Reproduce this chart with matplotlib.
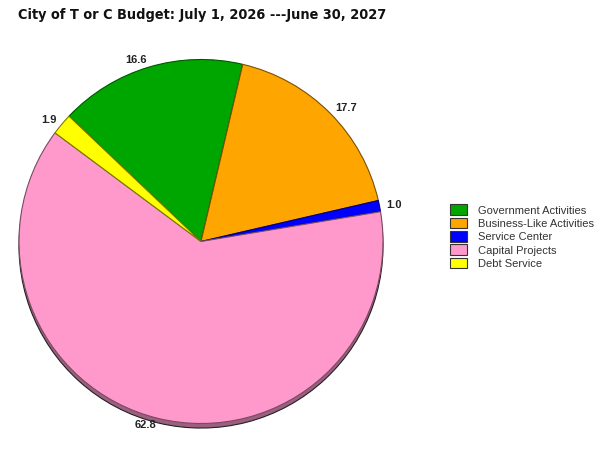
import matplotlib.pyplot as plt
from matplotlib import font_manager

categories = ["Government Activities", "Business-Like Activities", "Service Center",
              "Capital Projects", "Debt Service"]
values = [16.6, 17.7, 1.0, 62.8, 1.9]
colors = ["#00a600", "#ffa500", "#0000ff", "#ff99cc", "#ffff00"]
shadow_colors = ["#006400", "#a06800", "#00009a", "#9c5f7f", "#a0a000"]
edge_colors = ["#005500", "#7a5000", "#000080", "#7a4a62", "#7a7a00"]
title = "City of T or C Budget: July 1, 2026 ---June 30, 2027"

# look for a condensed bold face for the title, else Roboto bold
title_font = font_manager.FontProperties(family="Roboto", weight="bold")
for f in font_manager.fontManager.ttflist:
    if "ondensed" in f.name or "Narrow" in f.name or f.stretch in ("condensed", "extra-condensed", "semi-condensed"):
        w = f.weight if isinstance(f.weight, int) else 700 if "bold" in str(f.weight) else 400
        if w >= 600:
            title_font = font_manager.FontProperties(fname=f.fname)
            break

fig = plt.figure(figsize=(6, 4.53), dpi=100)
W, H = 600, 453
cx, cy, r = 201, 241.5, 182
ax = fig.add_axes([(cx - r) / W, (H - cy - r) / H, 2 * r / W, 2 * r / H])

# shadow pie, offset downward
ax.pie(values, colors=shadow_colors, startangle=136.5, counterclock=False,
       center=(0, -0.025), wedgeprops=dict(edgecolor="#222222", linewidth=0.8))

wedges, texts = ax.pie(values, colors=colors, startangle=136.5, counterclock=False,
                       labels=[f"{v:.1f}" for v in values], labeldistance=1.04,
                       textprops=dict(fontsize=8, fontweight="bold", color="#222222",
                                      family="Liberation Sans"),
                       wedgeprops=dict(linewidth=0.8))
for w, ec in zip(wedges, edge_colors):
    w.set_edgecolor(ec)
for t in texts:
    t.set_va("center")

ax.set_xlim(-1, 1)
ax.set_ylim(-1, 1)
ax.set_aspect("equal")
ax.axis("off")

title_font.set_size(14)
tt = fig.text(18 / W, 1 - 15 / H, title, ha="left", va="center",
              fontproperties=title_font, color="#111111")
renderer = fig.canvas.get_renderer()
width = tt.get_window_extent(renderer).width
if width > 370:
    title_font.set_size(14 * 370 / width)
    tt.set_fontproperties(title_font)

leg = fig.legend(wedges, categories, loc="upper left", bbox_to_anchor=(446 / W, 1 - 200 / H),
                 frameon=False, prop=dict(family="Liberation Sans", size=8),
                 handlelength=1.45, handleheight=1.1, handletextpad=1.0, labelspacing=0.2,
                 borderaxespad=0)
for h in leg.legend_handles:
    h.set_edgecolor("#333333")
    h.set_linewidth(0.8)
for t in leg.get_texts():
    t.set_color("#333333")

fig.savefig("out.png", dpi=100)
